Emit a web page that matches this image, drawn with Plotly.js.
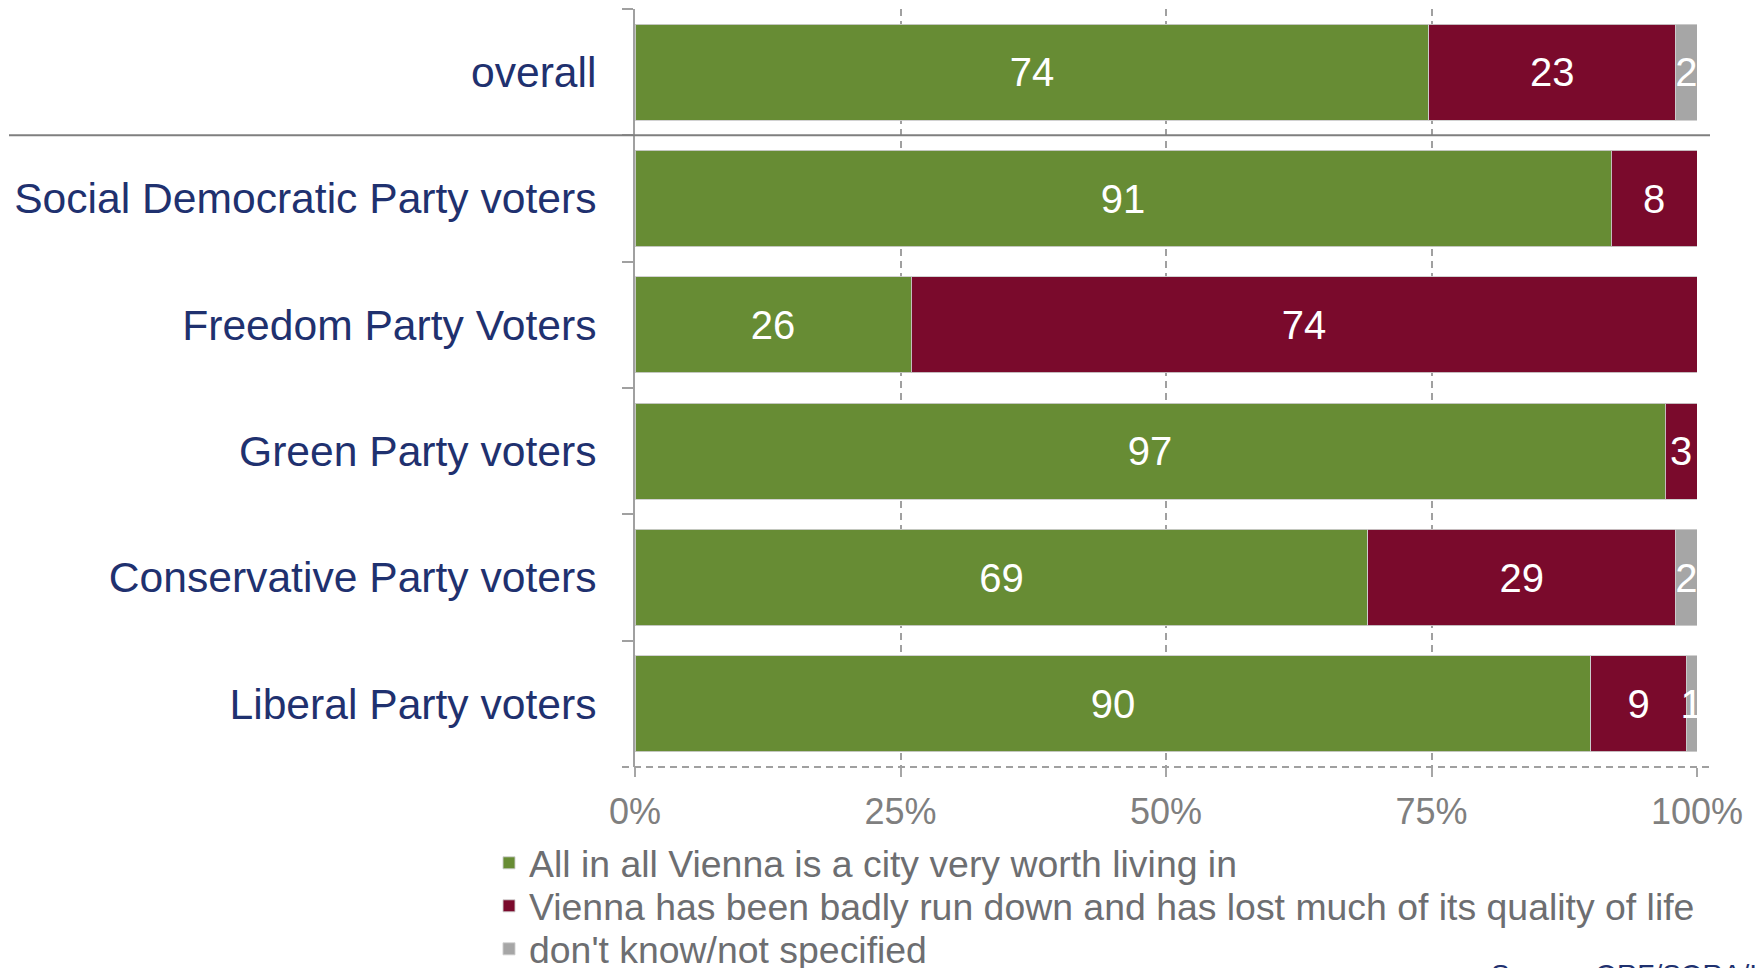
<!DOCTYPE html>
<html>
<head>
<meta charset="utf-8">
<script src="https://cdn.plot.ly/plotly-3.0.1.min.js"></script>
<style>
  html, body { margin: 0; padding: 0; background: #ffffff; }
  #chart { width: 1755px; height: 968px; }
</style>
</head>
<body>
<div id="chart"></div>
<script>
// ---- data ----
const categories = [
  'overall',
  'Social Democratic Party voters',
  'Freedom Party Voters',
  'Green Party voters',
  'Conservative Party voters',
  'Liberal Party voters'
];
const worthLiving = [74, 91, 26, 97, 69, 90];
const runDown     = [23, 8, 74, 3, 29, 9];
const dontKnow    = [2, 0, 0, 0, 2, 1];
const seriesNames = [
  'All in all Vienna is a city very worth living in',
  'Vienna has been badly run down and has lost much of its quality of life',
  "don't know/not specified"
];
const xTickVals   = [0, 25, 50, 75, 100];
const xTickLabels = ['0%', '25%', '50%', '75%', '100%'];
const sourceText = 'Source: ORF/SORA/ISA';

// ---- styling ----
const FONT = 'Liberation Sans, Arial, Helvetica, sans-serif';
const colors = ['#678C34', '#7A0A2C', '#A6A6A6'];
const seriesValues = [worthLiving, runDown, dontKnow];
const legendIds = ['legend', 'legend2', 'legend3'];

const traces = seriesValues.map((vals, i) => ({
  type: 'bar',
  orientation: 'h',
  name: seriesNames[i],
  y: categories,
  x: vals,
  text: vals.map(v => (v > 0 ? String(v) : '')),
  texttemplate: '%{text}',
  textposition: 'inside',
  insidetextanchor: 'middle',
  constraintext: 'none',
  textangle: 0,
  insidetextfont: { family: FONT, size: 40, color: '#ffffff' },
  marker: { color: colors[i], line: { color: 'rgba(205,205,205,0.9)', width: 1 } },
  legend: legendIds[i],
  hoverinfo: 'name+text'
}));

const plotLeft = 635, plotRight = 1697, plotTop = 9, plotBottom = 767;
const W = 1755, H = 968;
const plotH = plotBottom - plotTop, plotW = plotRight - plotLeft;
const pxToPaperX = px => (px - plotLeft) / plotW;
const pxToPaperY = py => (plotBottom - py) / plotH;

const legendRowCenters = [863, 906, 949];
const legendLeft = 489;

const legendCommon = {
  orientation: 'v',
  xanchor: 'left',
  yanchor: 'middle',
  bgcolor: 'rgba(0,0,0,0)',
  borderwidth: 0,
  font: { family: FONT, size: 37.4, color: '#6D6E71' }
};

const layout = {
  width: W,
  height: H,
  paper_bgcolor: '#ffffff',
  plot_bgcolor: '#ffffff',
  barmode: 'stack',
  barnorm: 'percent',
  bargap: 0.24,
  margin: { l: plotLeft, r: W - plotRight, t: plotTop, b: H - plotBottom, pad: 0, autoexpand: false },
  font: { family: FONT },
  showlegend: true,
  xaxis: {
    range: [0, 100],
    tickmode: 'array',
    tickvals: xTickVals,
    ticktext: xTickLabels,
    showgrid: true,
    griddash: '7px,5px',
    gridcolor: '#A0A0A0',
    gridwidth: 2,
    zeroline: false,
    showline: false,
    ticks: 'outside',
    ticklen: 9,
    tickwidth: 2,
    tickcolor: '#A6A6A6',
    ticklabelstandoff: 4,
    tickfont: { family: FONT, size: 36, color: '#7F7F7F' },
    fixedrange: true
  },
  yaxis: {
    type: 'category',
    categoryorder: 'array',
    categoryarray: categories,
    autorange: 'reversed',
    tickson: 'boundaries',
    ticks: 'outside',
    ticklen: 11,
    tickwidth: 2,
    tickcolor: '#A0A0A0',
    showline: true,
    linecolor: '#A0A0A0',
    linewidth: 2,
    showgrid: false,
    zeroline: false,
    ticklabelstandoff: 28,
    tickfont: { family: FONT, size: 42.6, color: '#1F316F' },
    fixedrange: true
  },
  shapes: [
    { // separator between "overall" and party groups
      type: 'line', xref: 'paper', yref: 'paper',
      x0: pxToPaperX(9), x1: pxToPaperX(1710),
      y0: 1 - 1 / categories.length, y1: 1 - 1 / categories.length,
      line: { color: '#7F7F7F', width: 2 }
    },
    { // dashed bottom axis line
      type: 'line', xref: 'paper', yref: 'paper',
      x0: pxToPaperX(622), x1: pxToPaperX(1710),
      y0: 0, y1: 0,
      line: { color: '#A0A0A0', width: 2, dash: '7px,5px' }
    }
  ],
  annotations: [
    {
      text: sourceText, showarrow: false,
      xref: 'paper', yref: 'paper',
      x: pxToPaperX(1489), y: pxToPaperY(957),
      xanchor: 'left', yanchor: 'top',
      font: { family: FONT, size: 28, color: '#1F316F' }
    }
  ]
};
legendIds.forEach((id, i) => {
  layout[id] = Object.assign({}, legendCommon, {
    x: pxToPaperX(legendLeft),
    y: pxToPaperY(legendRowCenters[i])
  });
});

Plotly.newPlot('chart', traces, layout, { displayModeBar: false, staticPlot: true });
</script>
</body>
</html>
